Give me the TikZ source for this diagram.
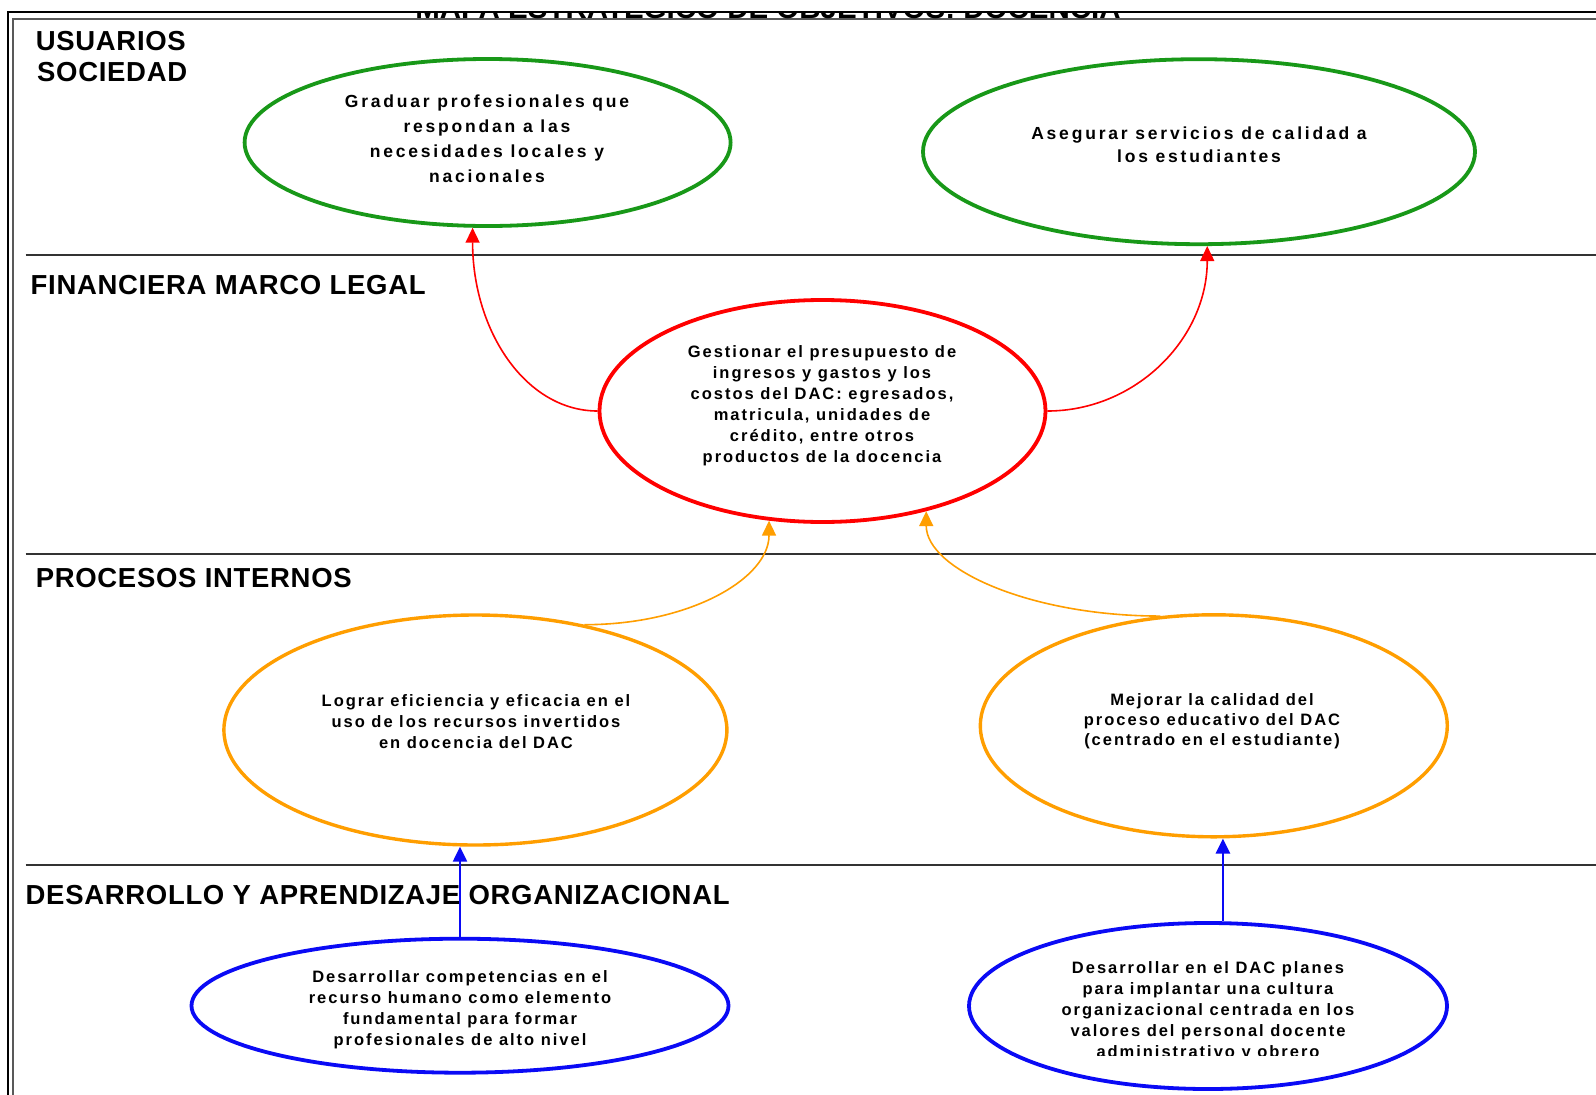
\documentclass[tikz,border=0pt]{standalone}
\usepackage{fontspec}
\setmainfont{Liberation Sans}
\newfontfamily\ovalfont{Liberation Sans}[LetterSpace=12]
\newfontfamily\greenfont{Liberation Sans}[LetterSpace=16]
\newfontfamily\headfont{Liberation Sans}[LetterSpace=2.5]
\usetikzlibrary{arrows.meta,shapes.geometric}

\definecolor{okgreen}{RGB}{24,152,24}
\definecolor{okred}{RGB}{255,0,0}
\definecolor{okorange}{RGB}{255,158,0}
\definecolor{okblue}{RGB}{10,10,245}

\tikzset{
  oval/.style={ellipse, draw=#1, line width=3.8pt, inner sep=0pt},
  ovaltext/.style={align=center, inner sep=0pt, text=black,
    font=\ovalfont\bfseries\fontsize{16.5}{21}\selectfont},
  bigovaltext/.style={align=center, inner sep=0pt, text=black,
    font=\greenfont\bfseries\fontsize{17.5}{25}\selectfont},
  header/.style={anchor=base west, inner sep=0pt,
    font=\headfont\bfseries\fontsize{27.5}{30}\selectfont},
  band/.style={line width=2pt, black!80},
  link/.style={draw=#1, line width=1.6pt,
    -{Triangle[width=14pt,length=15pt]}},
}

\begin{document}
\begin{tikzpicture}[x=1pt,y=-1pt]
\useasboundingbox (0,0) rectangle (1596,1095);
\fill[white] (0,0) rectangle (1596,1095);

% page frame (double rule on top and left)
\draw[line width=2pt, black] (7.5,1100) -- (7.5,11.5) -- (1600,11.5);
\draw[line width=2pt, black!65] (12.5,1100) -- (12.5,19) -- (1600,19);

% title, cut by the frame
\begin{scope}
  \clip (380,12.8) rectangle (1160,18);
  \node[anchor=base, inner sep=0pt, font=\bfseries\fontsize{29.5}{31}\selectfont]
    (title) at (768,18.5) {MAPA ESTRATEGICO DE OBJETIVOS: DOCENCIA};
\end{scope}

% band separators
\draw[band] (25.5,254.5) -- (1600,254.5);
\draw[band] (25.5,553.8) -- (1600,553.8);
\draw[band] (25.5,865) -- (1600,865);

% band headings
\node[header] (h1a) at (35.6,50) {USUARIOS};
\node[header] (h1b) at (37,81) {SOCIEDAD};
\node[header] (h2) at (30.5,294) {FINANCIERA MARCO LEGAL};
\node[header] (h3) at (35.6,587) {PROCESOS INTERNOS};
\node[header] (h4) at (25.5,904) {DESARROLLO Y APRENDIZAJE ORGANIZACIONAL};

% objectives
\node[oval=okgreen, minimum width=486pt, minimum height=167pt] (gl) at (487.6,142.5) {};
\node[oval=okgreen, minimum width=552pt, minimum height=185pt] (gr) at (1199,151.7) {};
\node[oval=okred, minimum width=446pt, minimum height=222pt] (rf) at (822.5,411) {};
\node[oval=okorange, line width=3.4pt, minimum width=503pt, minimum height=230pt] (ol) at (475.4,730) {};
\node[oval=okorange, line width=3.4pt, minimum width=467pt, minimum height=222pt] (or) at (1213.8,725.8) {};
\node[oval=okblue, minimum width=537pt, minimum height=134pt] (bl) at (460,1005.7) {};
\node[oval=okblue, minimum width=478pt, minimum height=166pt] (br) at (1208,1006) {};

\node[bigovaltext] (tgl) at (487,139)
  {Graduar profesionales que\\respondan a las\\necesidades locales y\\nacionales};
\node[bigovaltext, font=\greenfont\bfseries\fontsize{17.5}{23.4}\selectfont] (tgr) at (1199,144.5)
  {Asegurar servicios de calidad a\\los estudiantes};
\node[ovaltext] (trf) at (822,406)
  {Gestionar el presupuesto de\\ingresos y gastos y los\\costos del DAC: egresados,\\matricula, unidades de\\crédito, entre otros\\productos de la docencia};
\node[ovaltext] (tol) at (476,722)
  {Lograr eficiencia y eficacia en el\\uso de los recursos invertidos\\en docencia del DAC};
\node[ovaltext, font=\ovalfont\bfseries\fontsize{16.5}{20}\selectfont] (tor) at (1212,721.5)
  {Mejorar la calidad del\\proceso educativo del DAC\\(centrado en el estudiante)};
\node[ovaltext] (tbl) at (460,1010)
  {Desarrollar competencias en el\\recurso humano como elemento\\fundamental para formar\\profesionales de alto nivel};
\begin{scope}
  \clip (900,900) rectangle (1500,1055);
  \node[ovaltext] (tbr) at (1208,1011)
    {Desarrollar en el DAC planes\\para implantar una cultura\\organizacional centrada en los\\valores del personal docente\\administrativo y obrero};
\end{scope}

% links between objectives
\draw[link=okred] (rf.west) .. controls +(-72,0) and +(0,103) .. (gl.260);
\draw[link=okred] (rf.east) .. controls +(88,0) and +(0,93) .. (gr.275);
\draw[link=okorange] (ol.44) .. controls +(105,0) and +(0,58) .. (rf.244);
\draw[link=okorange] (or.116) .. controls +(-130,0) and +(0,58) .. (rf.316.6);
\draw[link=okblue, line width=2.4pt] (bl.north) -- (bl.north |- ol.south);
\draw[link=okblue, line width=2.4pt] (br.80) -- (br.80 |- or.south);
\end{tikzpicture}
\end{document}
